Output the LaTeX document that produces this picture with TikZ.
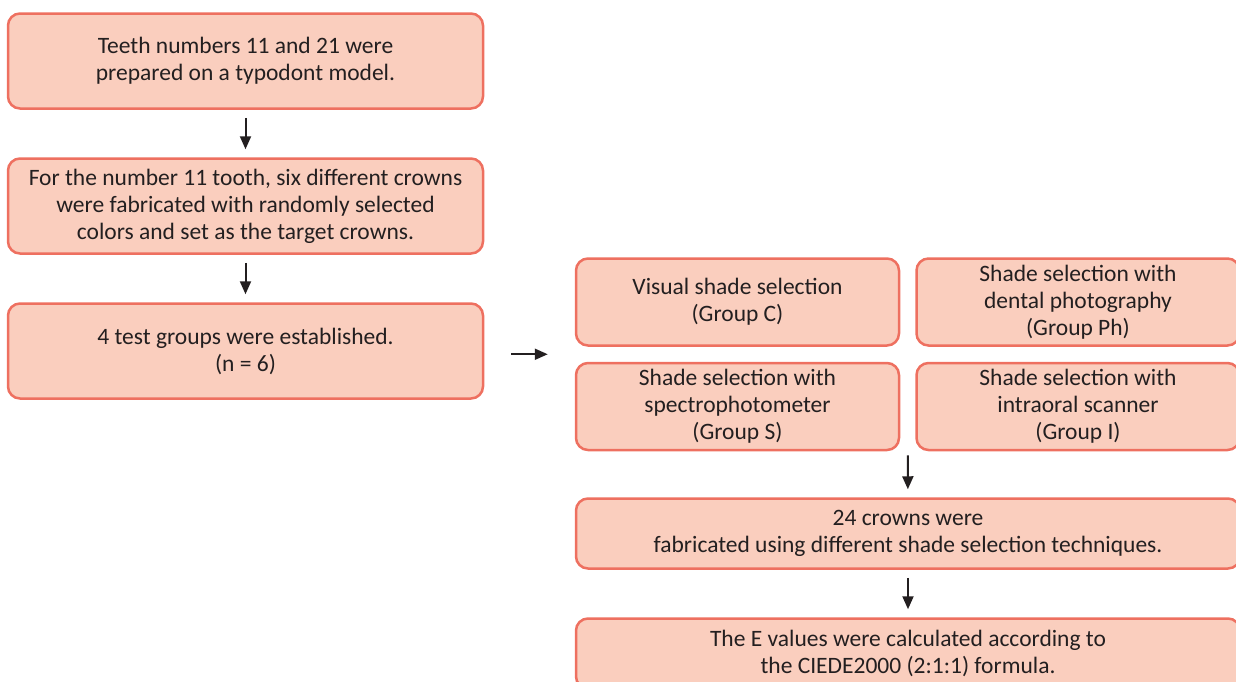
\documentclass[tikz,border=0pt]{standalone}
\usepackage{fontspec}
\setmainfont{Carlito}
\usetikzlibrary{arrows.meta,calc}
\definecolor{boxfill}{RGB}{250,206,190}
\definecolor{boxline}{RGB}{238,112,96}
\definecolor{ink}{RGB}{35,31,32}

\begin{document}
\begin{tikzpicture}[x=1pt,y=-1pt,
    stepbox/.style={draw=boxline,fill=boxfill,line width=2.5pt,rounded corners=12pt,
      align=center,inner sep=0pt,text=ink,font=\fontsize{23.5}{27}\selectfont},
    flow/.style={-{Triangle[length=13pt,width=11pt]},line width=2pt,draw=ink,
      shorten <=8pt,shorten >=8pt}]
        \useasboundingbox (0,0) rectangle (1236,681);
        % left column
        \node[stepbox,minimum width=475pt,minimum height=95pt] (teeth) at (245.5,61) {Teeth numbers 11 and 21 were\\prepared on a typodont model.};
        \node[stepbox,minimum width=475pt,minimum height=95pt] (target) at (245.5,206) {For the number 11 tooth, six different crowns\\were fabricated with randomly selected\\colors and set as the target crowns.};
        \node[stepbox,minimum width=475pt,minimum height=95pt] (groups) at (245.5,351) {4 test groups were established.\\(n = 6)};
        % the four shade selection groups
        \foreach \name/\x/\y/\labeltext in {visual/737.5/302/{Visual shade selection\\(Group C)},
            photo/1078/302/{Shade selection with\\dental photography\\(Group Ph)},
            spectro/737.5/406.5/{Shade selection with\\spectrophotometer\\(Group S)},
            scanner/1078/406.5/{Shade selection with\\intraoral scanner\\(Group I)}}{
            \node[stepbox,minimum width=323pt,minimum height=87pt] (\name) at (\x,\y) {\labeltext};
        }
        \node[stepbox,minimum width=664pt,minimum height=70pt] (fabric) at (908,533.5) {24 crowns were\\fabricated using different shade selection techniques.};
        \node[stepbox,minimum width=664pt,minimum height=70pt] (delta) at (908,653.5) {The E values were calculated according to\\the CIEDE2000 (2:1:1) formula.};
        \coordinate (grouptop) at ($(visual.west)!0.5!(spectro.west)$);
        \coordinate (groupgap) at ($(spectro.south east)!0.5!(scanner.south west)$);
        % arrows
        \draw[flow] (teeth) -- (target);
        \draw[flow] (target) -- (groups);
        \draw[flow,shorten <=27pt,shorten >=27pt] (groups.east |- grouptop) -- (grouptop);
        \draw[flow,shorten <=4pt] (groupgap) -- (fabric);
        \draw[flow] (fabric) -- (delta);
    \end{tikzpicture}
\end{document}
